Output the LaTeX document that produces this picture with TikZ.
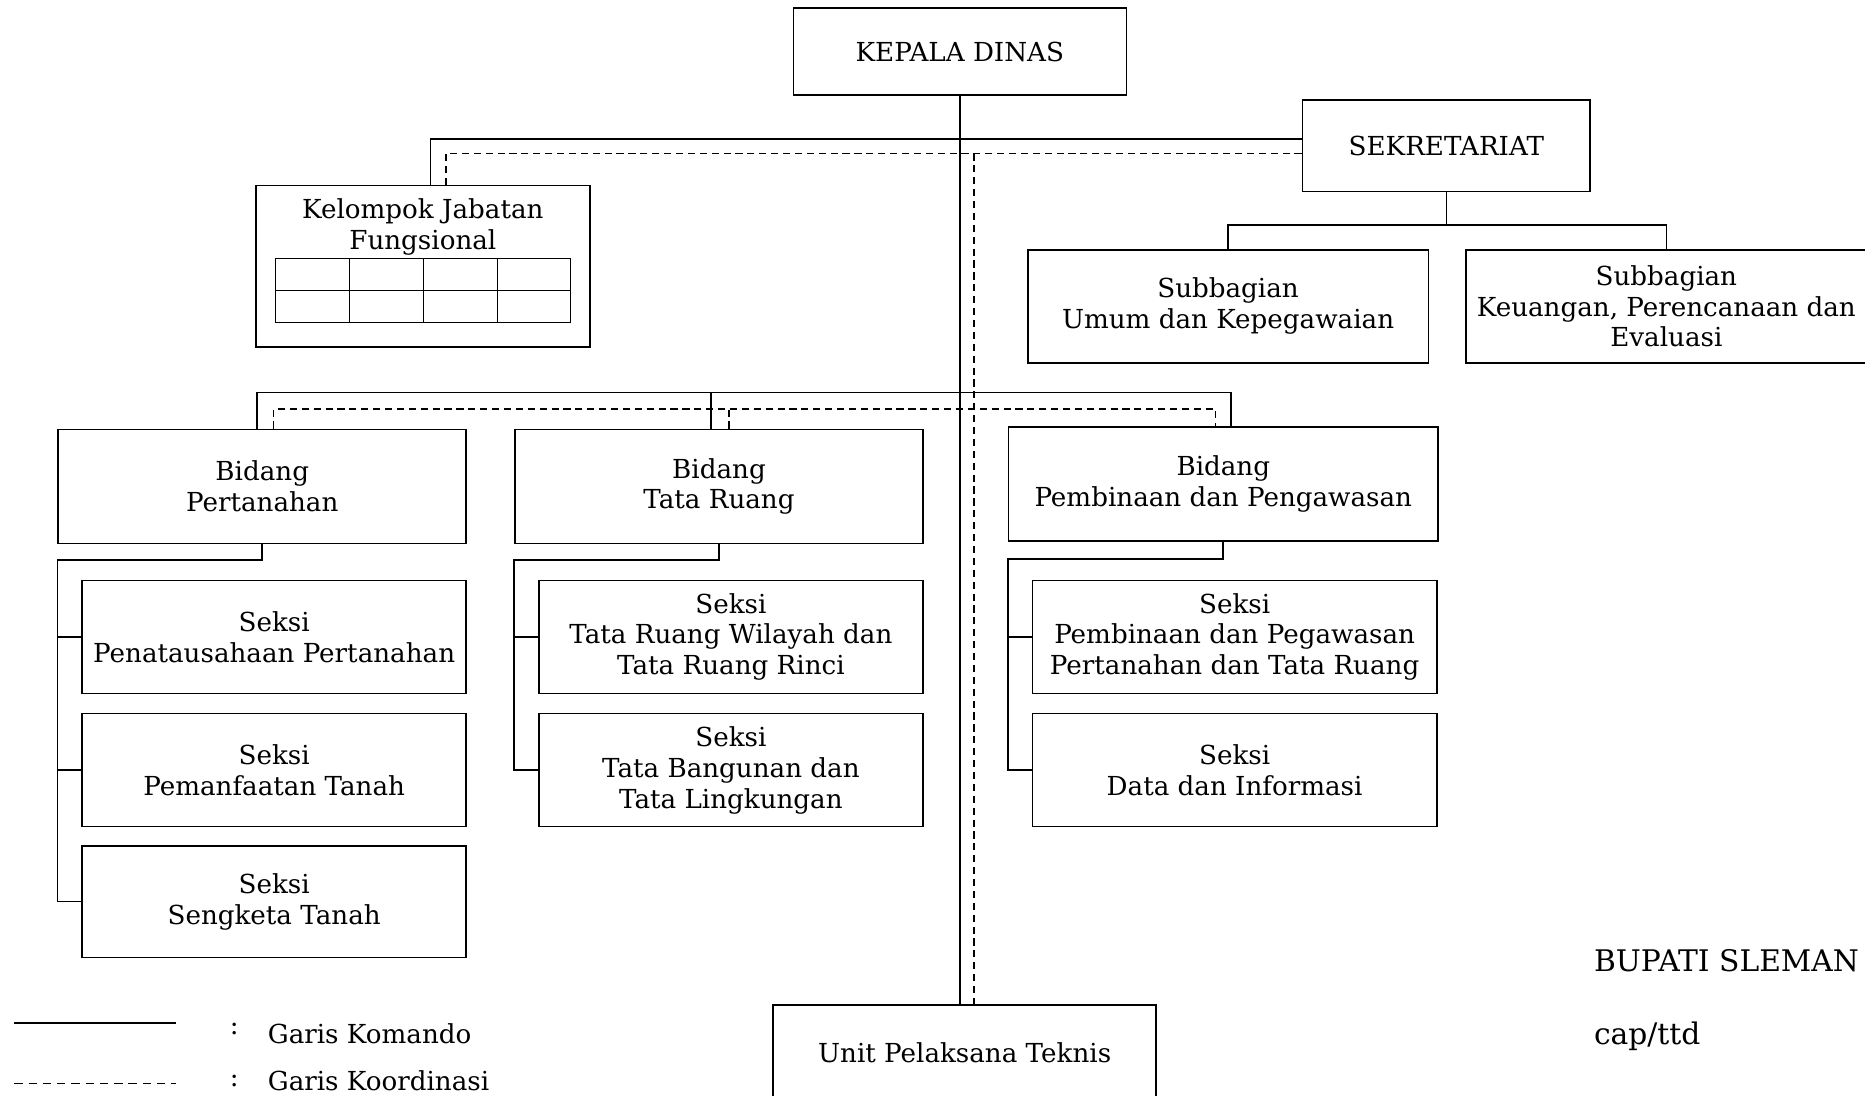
\documentclass[tikz,border=0pt]{standalone}
\usepackage{fontspec}
\setmainfont{DejaVu Serif}
\usetikzlibrary{calc}
\newcommand\orgfont{\fontsize{22}{26}\selectfont}
\newcommand\bigorgfont{\fontsize{25}{29}\selectfont}
\begin{document}
\begin{tikzpicture}[x=1pt,y=-1pt,
 box/.style={draw, line width=1.4pt, inner sep=0pt, align=center, font=\orgfont},
 cmd/.style={line width=1.4pt},
 crd/.style={line width=1.3pt, dash pattern=on 6pt off 4pt},
 lbl/.style={inner sep=0pt, font=\orgfont}]
\useasboundingbox[fill=white] (0,0) rectangle (1568,921);

% top level
\node[box, minimum width=280, minimum height=73] (kd) at (807,43.5) {KEPALA DINAS};
\node[box, minimum width=242, minimum height=77] (sek) at (1216,122.5) {SEKRETARIAT};
\node[box, minimum width=281, minimum height=136] (kjf) at (355.5,224) {};
\node[lbl, align=center] (kjft) at (355.5,191) {Kelompok Jabatan\\Fungsional};
\draw[line width=0.9pt] (232,217) rectangle (480,271);
\foreach \x in {294,356,418} \draw[line width=0.9pt] (\x,217) -- (\x,271);
\draw[line width=0.9pt] (232,244) -- (480,244);

\node[box, minimum width=337, minimum height=95] (sub1) at (1032.5,257.5) {Subbagian\\Umum dan Kepegawaian};
\node[box, minimum width=337, minimum height=95] (sub2) at (1401,257.5) {Subbagian\\Keuangan, Perencanaan dan\\Evaluasi};

% bidang
\node[box, minimum width=343, minimum height=96] (bp) at (220.5,409) {Bidang\\Pertanahan};
\node[box, minimum width=343, minimum height=96] (btr) at (604.5,409) {Bidang\\Tata Ruang};
\node[box, minimum width=361, minimum height=96] (bpp) at (1028.5,407) {Bidang\\Pembinaan dan Pengawasan};

% seksi
\node[box, minimum width=323, minimum height=95] (s11) at (230.5,535.5) {Seksi\\Penatausahaan Pertanahan};
\node[box, minimum width=323, minimum height=95] (s12) at (230.5,647.5) {Seksi\\Pemanfaatan Tanah};
\node[box, minimum width=323, minimum height=94] (s13) at (230.5,758) {Seksi\\Sengketa Tanah};
\node[box, minimum width=323, minimum height=95] (s21) at (614.5,535.5) {Seksi\\Tata Ruang Wilayah dan\\Tata Ruang Rinci};
\node[box, minimum width=323, minimum height=95] (s22) at (614.5,647.5) {Seksi\\Tata Bangunan dan\\Tata Lingkungan};
\node[box, minimum width=340, minimum height=95] (s31) at (1038,535.5) {Seksi\\Pembinaan dan Pegawasan\\Pertanahan dan Tata Ruang};
\node[box, minimum width=340, minimum height=95] (s32) at (1038,647.5) {Seksi\\Data dan Informasi};

\node[box, minimum width=322, minimum height=80] (upt) at (811,885) {Unit Pelaksana Teknis};

% main trunk
\coordinate (ysek) at (0,117);
\coordinate (ysekd) at (0,129);
\coordinate (trunkD) at ([xshift=12pt]kd.south);
\draw[cmd] (kd.south) -- (kd.south |- upt.north);
\draw[crd] (trunkD |- ysekd) -- (trunkD |- upt.north);

% sekretariat and kelompok
\coordinate (kjfS) at ([xshift=6.5pt]kjf.north);
\coordinate (kjfD) at ([xshift=19.5pt]kjf.north);
\draw[cmd] (sek.west |- ysek) -| (kjfS);
\draw[crd] (sek.west |- ysekd) -| (kjfD);

\coordinate (ysub) at (0,189);
\draw[cmd] (sek.south) -- (sek.south |- ysub);
\draw[cmd] (sub1.north) -- (sub1.north |- ysub) -- (sub2.north |- ysub) -- (sub2.north);

% bidang row
\coordinate (yb) at (0,330);
\coordinate (ybd) at (0,344);
\coordinate (bpS) at ([xshift=-4.5pt]bp.north);
\coordinate (bpD) at ([xshift=9.5pt]bp.north);
\coordinate (btrS) at ([xshift=-6.5pt]btr.north);
\coordinate (btrD) at ([xshift=8.5pt]btr.north);
\coordinate (bppS) at ([xshift=6.5pt]bpp.north);
\coordinate (bppD) at ([xshift=-6.5pt]bpp.north);
\draw[cmd] (bpS) -- (bpS |- yb) -- (bppS |- yb) -- (bppS);
\draw[cmd] (btrS) -- (btrS |- yb);
\draw[crd] (bpD) -- (bpD |- ybd) -- (bppD |- ybd) -- (bppD);
\draw[crd] (btrD) -- (btrD |- ybd);

% children
\coordinate (yc1) at (0,471);
\coordinate (yc3) at (0,470);
\draw[cmd] (bp.south) -- (bp.south |- yc1) -- (bp.west |- yc1) -- (bp.west |- s13.west) -- (s13.west);
\draw[cmd] (bp.west |- s11.west) -- (s11.west);
\draw[cmd] (bp.west |- s12.west) -- (s12.west);
\draw[cmd] (btr.south) -- (btr.south |- yc1) -- (btr.west |- yc1) -- (btr.west |- s22.west) -- (s22.west);
\draw[cmd] (btr.west |- s21.west) -- (s21.west);
\draw[cmd] (bpp.south) -- (bpp.south |- yc3) -- (bpp.west |- yc3) -- (bpp.west |- s32.west) -- (s32.west);
\draw[cmd] (bpp.west |- s31.west) -- (s31.west);

% legend
\coordinate (l1a) at (12,860);
\coordinate (l1b) at (148,860);
\coordinate (l2a) at (12,911);
\coordinate (l2b) at (148,911);
\draw[cmd] (l1a) -- (l1b);
\draw[line width=1.3pt, dash pattern=on 7pt off 5pt] (l2a) -- (l2b);
\node[lbl] (c1) at (197,865) {:};
\node[lbl, anchor=west] (g1) at (225,869) {Garis Komando};
\node[lbl] (c2) at (197,909) {:};
\node[lbl, anchor=west] (g2) at (225,909) {Garis Koordinasi};

% signature
\node[lbl, anchor=west, font=\bigorgfont] (bup) at (1340,808) {BUPATI SLEMAN};
\node[lbl, anchor=west, font=\bigorgfont] (ttd) at (1340,871) {cap/ttd};
\end{tikzpicture}
\end{document}
